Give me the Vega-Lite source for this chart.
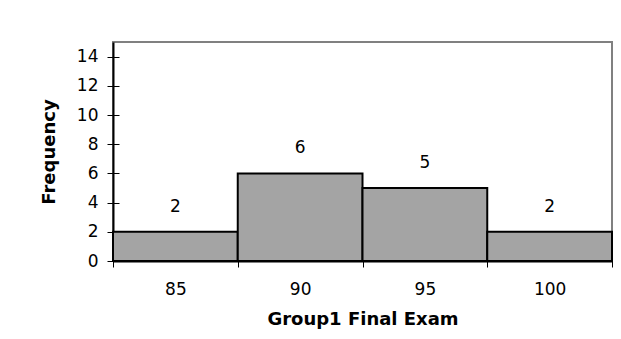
{
  "$schema": "https://vega.github.io/schema/vega-lite/v6.json",
  "width": 499,
  "height": 219,
  "autosize": {"type": "none"},
  "padding": {"left": 113, "top": 42, "right": 9, "bottom": 78},
  "background": "white",
  "config": {
    "font": "DejaVu Sans",
    "view": {"stroke": "#808080", "strokeWidth": 2},
    "axis": {
      "grid": false,
      "labelFont": "DejaVu Sans",
      "labelFontSize": 17,
      "labelColor": "black",
      "titleFont": "DejaVu Sans",
      "titleFontSize": 18,
      "titleFontWeight": "bold",
      "titleColor": "black",
      "domainColor": "black",
      "domainWidth": 2,
      "tickColor": "black",
      "tickWidth": 1
    }
  },
  "data": {
    "values": [
      {"score": "85", "freq": 2},
      {"score": "90", "freq": 6},
      {"score": "95", "freq": 5},
      {"score": "100", "freq": 2}
    ]
  },
  "encoding": {
    "x": {
      "field": "score",
      "type": "ordinal",
      "sort": null,
      "scale": {"paddingInner": 0, "paddingOuter": 0},
      "axis": {
        "title": "Group1 Final Exam",
        "labelAngle": 0,
        "tickBand": "extent",
        "tickSize": 6,
        "labelPadding": 14,
        "titlePadding": 13
      }
    }
  },
  "layer": [
    {
      "mark": {"type": "bar", "fill": "#a4a4a4", "stroke": "black", "strokeWidth": 2},
      "encoding": {
        "y": {
          "field": "freq",
          "type": "quantitative",
          "scale": {"domain": [0, 15], "nice": false},
          "axis": {
            "title": "Frequency",
            "orient": "left",
            "values": [0, 2, 4, 6, 8, 10, 12, 14],
            "tickSize": 6,
            "labelPadding": 9,
            "titlePadding": 18
          }
        }
      }
    },
    {
      "mark": {"type": "text", "baseline": "bottom", "dy": -16, "fontSize": 17, "font": "DejaVu Sans", "color": "black"},
      "encoding": {
        "text": {"field": "freq", "type": "quantitative"},
        "y": {
          "field": "freq",
          "type": "quantitative",
          "scale": {"domain": [0, 15], "nice": false},
          "axis": {
            "title": null,
            "orient": "left",
            "offset": -6,
            "values": [0, 2, 4, 6, 8, 10, 12, 14],
            "tickSize": 6,
            "labels": false,
            "domain": false
          }
        }
      }
    }
  ],
  "resolve": {"axis": {"y": "independent"}}
}
